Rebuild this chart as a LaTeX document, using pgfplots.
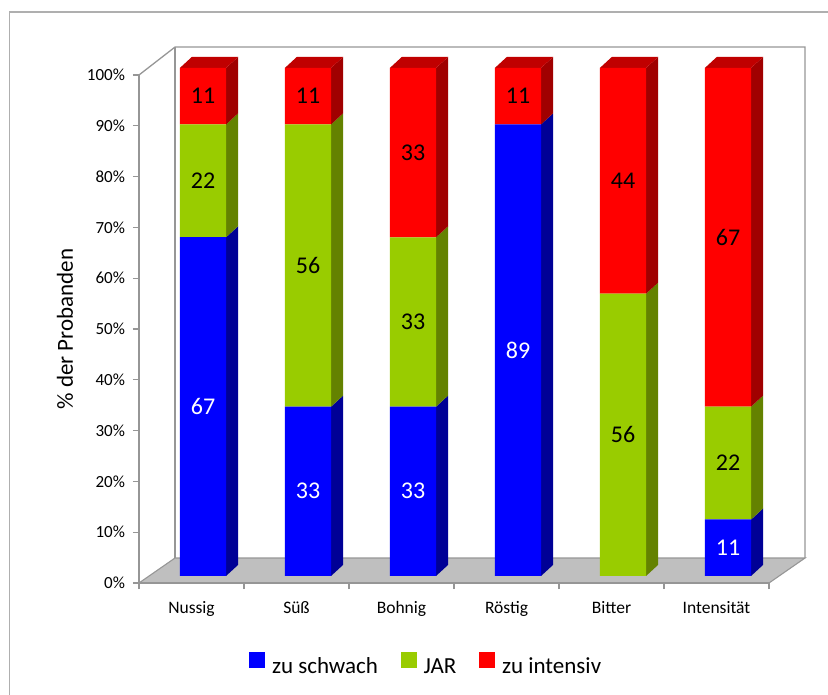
\documentclass[border=0pt]{standalone}
\usepackage{pgfplots}
\pgfplotsset{compat=1.18}
\usepackage{fontspec}
\setmainfont{Carlito}
\definecolor{axgray}{RGB}{150,150,150}
\definecolor{framegray}{RGB}{175,175,175}
\definecolor{floorgray}{RGB}{191,191,191}
\definecolor{cblue}{RGB}{0,0,255}
\definecolor{cblueside}{RGB}{0,0,150}
\definecolor{cgreen}{RGB}{153,204,0}
\definecolor{cgreenside}{RGB}{100,130,0}
\definecolor{cred}{RGB}{255,0,0}
\definecolor{credside}{RGB}{160,0,0}
\definecolor{credtop}{RGB}{192,0,0}
\pgfplotsset{base3d/.style={x=105bp, y=5.08bp, xmin=-0.5, xmax=5.5, ymin=0, ymax=100,
  clip=false, anchor=south west, at={(0,0)}}}
% values in percent (stacked to 100%)
\pgfplotstableread{
x    base blue  green red
0.11 1.4  66.67 22.22 11.11
1.11 1.4  33.33 55.56 11.11
2.11 1.4  33.33 33.33 33.33
3.11 1.4  88.89 0     11.11
4.11 1.4  0     55.56 44.44
5.11 1.4  11.11 22.22 66.67
}\datatable
\begin{document}
\begin{tikzpicture}
\path[use as bounding box] (-139bp,-112bp) rectangle (689bp,583bp);
\draw[framegray, line width=1.2bp] (-129.5bp,-112bp) -- (-129.5bp,571bp) -- (689bp,571bp);
% ---------- Axis A: walls, floor, side and top faces, ticks, legend
\begin{axis}[base3d, axis on top,
  axis x line*=bottom, axis y line*=left,
  axis line style={draw=axgray, line width=1.3bp},
  tick style={draw=axgray, line width=1.3bp},
  tick align=outside, major tick length=6bp,
  xtick={-0.5,0.5,1.5,2.5,3.5,4.5,5.5},
  x tick label as interval,
  xticklabels={Nussig,Süß,Bohnig,Röstig,Bitter,Intensität},
  xticklabel style={font=\fontsize{17.5bp}{21bp}\selectfont, yshift=-9bp},
  ytick={0,10,20,30,40,50,60,70,80,90,100},
  yticklabels={0\%,10\%,20\%,30\%,40\%,50\%,60\%,70\%,80\%,90\%,100\%},
  yticklabel style={font=\fontsize{17bp}{20bp}\selectfont, xshift=-4.5bp},
  ylabel={\% der Probanden},
  ylabel style={at={(axis description cs:-0.1175,0.5)}, anchor=center, font=\fontsize{23bp}{27bp}\selectfont},
  legend style={at={(0.456,-0.161)}, anchor=center, draw=none, fill=none,
    legend columns=3, font=\fontsize{23bp}{27bp}\selectfont,
    /tikz/every even column/.append style={column sep=21bp}},
]
\addlegendimage{legend image code/.code={\fill[cblue] (0bp,-1bp) rectangle (15bp,14bp); \path[draw=none, fill=none] (0bp,0bp) rectangle (20.5bp,1bp);}}
\addlegendentry{zu schwach}
\addlegendimage{legend image code/.code={\fill[cgreen] (0bp,-1bp) rectangle (15bp,14bp); \path[draw=none, fill=none] (0bp,0bp) rectangle (20.5bp,1bp);}}
\addlegendentry{JAR}
\addlegendimage{legend image code/.code={\fill[cred] (0bp,-1bp) rectangle (15bp,14bp); \path[draw=none, fill=none] (0bp,0bp) rectangle (20.5bp,1bp);}}
\addlegendentry{zu intensiv}
% floor
\addplot[forget plot, fill=floorgray, draw=axgray, line width=1.1bp] coordinates {(-0.5,0) (5.5,0) (5.843,4.92) (-0.157,4.92) (-0.5,0)};
% walls
\addplot[forget plot, draw=axgray, line width=1.3bp] coordinates {(-0.5,100) (-0.157,105.5) (5.843,105.5) (5.843,4.92)};
\addplot[forget plot, draw=axgray, line width=1.3bp] coordinates {(-0.157,105.5) (-0.157,4.92)};
% side faces -- Nussig
\addplot[forget plot, fill=cblueside, draw=none] coordinates {(0.33,1.4) (0.444,3.57) (0.444,70.24) (0.33,68.07)};
\addplot[forget plot, fill=cgreenside, draw=none] coordinates {(0.33,68.07) (0.444,70.24) (0.444,92.46) (0.33,90.29)};
\addplot[forget plot, fill=credside, draw=none] coordinates {(0.33,90.29) (0.444,92.46) (0.444,103.57) (0.33,101.4)};
\addplot[forget plot, fill=credtop, draw=none] coordinates {(-0.11,101.4) (0.004,103.57) (0.444,103.57) (0.33,101.4)};
% Süß
\addplot[forget plot, fill=cblueside, draw=none] coordinates {(1.33,1.4) (1.444,3.57) (1.444,36.90) (1.33,34.73)};
\addplot[forget plot, fill=cgreenside, draw=none] coordinates {(1.33,34.73) (1.444,36.90) (1.444,92.46) (1.33,90.29)};
\addplot[forget plot, fill=credside, draw=none] coordinates {(1.33,90.29) (1.444,92.46) (1.444,103.57) (1.33,101.4)};
\addplot[forget plot, fill=credtop, draw=none] coordinates {(0.89,101.4) (1.004,103.57) (1.444,103.57) (1.33,101.4)};
% Bohnig
\addplot[forget plot, fill=cblueside, draw=none] coordinates {(2.33,1.4) (2.444,3.57) (2.444,36.90) (2.33,34.73)};
\addplot[forget plot, fill=cgreenside, draw=none] coordinates {(2.33,34.73) (2.444,36.90) (2.444,70.24) (2.33,68.07)};
\addplot[forget plot, fill=credside, draw=none] coordinates {(2.33,68.07) (2.444,70.24) (2.444,103.57) (2.33,101.4)};
\addplot[forget plot, fill=credtop, draw=none] coordinates {(1.89,101.4) (2.004,103.57) (2.444,103.57) (2.33,101.4)};
% Röstig
\addplot[forget plot, fill=cblueside, draw=none] coordinates {(3.33,1.4) (3.444,3.57) (3.444,92.46) (3.33,90.29)};
\addplot[forget plot, fill=credside, draw=none] coordinates {(3.33,90.29) (3.444,92.46) (3.444,103.57) (3.33,101.4)};
\addplot[forget plot, fill=credtop, draw=none] coordinates {(2.89,101.4) (3.004,103.57) (3.444,103.57) (3.33,101.4)};
% Bitter
\addplot[forget plot, fill=cgreenside, draw=none] coordinates {(4.33,1.4) (4.444,3.57) (4.444,59.13) (4.33,56.96)};
\addplot[forget plot, fill=credside, draw=none] coordinates {(4.33,56.96) (4.444,59.13) (4.444,103.57) (4.33,101.4)};
\addplot[forget plot, fill=credtop, draw=none] coordinates {(3.89,101.4) (4.004,103.57) (4.444,103.57) (4.33,101.4)};
% Intensität
\addplot[forget plot, fill=cblueside, draw=none] coordinates {(5.33,1.4) (5.444,3.57) (5.444,14.68) (5.33,12.51)};
\addplot[forget plot, fill=cgreenside, draw=none] coordinates {(5.33,12.51) (5.444,14.68) (5.444,36.90) (5.33,34.73)};
\addplot[forget plot, fill=credside, draw=none] coordinates {(5.33,34.73) (5.444,36.90) (5.444,103.57) (5.33,101.4)};
\addplot[forget plot, fill=credtop, draw=none] coordinates {(4.89,101.4) (5.004,103.57) (5.444,103.57) (5.33,101.4)};
\end{axis}
% ---------- Axis B: stacked front faces
\begin{axis}[base3d, hide axis, ybar stacked, bar width=0.44, bar shift=0pt]
\addplot[draw=none, fill=none] table[x=x, y=base] {\datatable};
\addplot[draw=none, fill=cblue] table[x=x, y=blue] {\datatable};
\addplot[draw=none, fill=cgreen] table[x=x, y=green] {\datatable};
\addplot[draw=none, fill=cred] table[x=x, y=red] {\datatable};
\end{axis}
% ---------- Axis C: data labels
\begin{axis}[base3d, hide axis]
\addplot[draw=none, mark=none, nodes near coords={\pgfplotspointmeta}, point meta=explicit symbolic,
  nodes near coords align={center},
  every node near coord/.append style={text=white, font=\fontsize{24bp}{28bp}\selectfont}]
  coordinates {(0.11,34.73)[67] (1.11,18.07)[33] (2.11,18.07)[33] (3.11,45.84)[89] (5.11,6.96)[11]};
\addplot[draw=none, mark=none, nodes near coords={\pgfplotspointmeta}, point meta=explicit symbolic,
  nodes near coords align={center},
  every node near coord/.append style={text=black, font=\fontsize{24bp}{28bp}\selectfont}]
  coordinates {(0.11,79.18)[22] (1.11,62.51)[56] (2.11,51.4)[33] (4.11,29.18)[56] (5.11,23.62)[22]};
\addplot[draw=none, mark=none, nodes near coords={\pgfplotspointmeta}, point meta=explicit symbolic,
  nodes near coords align={center},
  every node near coord/.append style={text=black, font=\fontsize{24bp}{28bp}\selectfont}]
  coordinates {(0.11,95.84)[11] (1.11,95.84)[11] (2.11,84.73)[33] (3.11,95.84)[11] (4.11,79.18)[44] (5.11,68.07)[67]};
\end{axis}
\end{tikzpicture}
\end{document}
